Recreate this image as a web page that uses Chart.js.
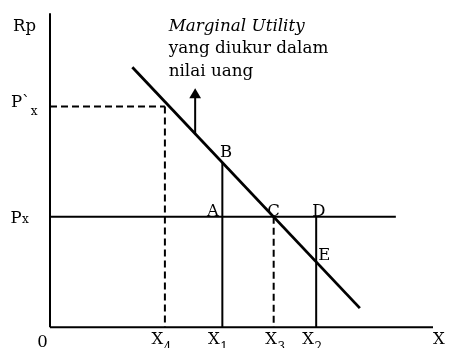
<!DOCTYPE html>
<html>
<head>
<meta charset="utf-8">
<script src="https://cdn.jsdelivr.net/npm/chart.js@4.4.1/dist/chart.umd.min.js"></script>
<style>
  html, body { margin: 0; padding: 0; background: #ffffff; }
  #c { display: block; }
</style>
</head>
<body>
<canvas id="c" width="450" height="348"></canvas>
<script>
// ---- data (abstract diagram units) ----
const axisMaxX = 10;
const axisMaxY = 10;
const quantityNames = ['4', '1', '3', '2'];          // subscripts of X
const quantities    = [3.0, 4.5, 5.84, 6.95];         // X4, X1, X3, X2
const priceNames    = ['P`', 'P'];                    // P`x, Px
const prices        = [7.03, 3.52];                   // P`x, Px
const priceLineEnd  = 9.03;
const muLineX       = [2.15, 8.09];                   // Marginal Utility line
const muLineY       = [8.28, 0.61];
const pointNames    = ['A', 'B', 'C', 'D', 'E'];
const pointX        = [4.5, 4.5, 5.84, 6.95, 6.95];
const pointY        = [3.52, 5.25, 3.52, 3.52, 2.09];
const arrowX        = 3.79;
const arrowY        = [6.17, 7.40];
const noteLines     = ['Marginal Utility', 'yang diukur dalam', 'nilai uang'];

const black = '#000000';
function seg(data, opts) {
  return Object.assign({
    data: data, showLine: true, borderColor: black, borderWidth: 2,
    pointRadius: 0, pointHoverRadius: 0, fill: false, clip: false,
    tension: 0
  }, opts || {});
}

const datasets = [
  // axes
  seg([{x: 0, y: 0}, {x: 0, y: axisMaxY}]),
  seg([{x: 0, y: 0}, {x: axisMaxX, y: 0}]),
  // price lines
  seg([{x: 0, y: prices[0]}, {x: quantities[0], y: prices[0]}], {borderDash: [7, 4]}),
  seg([{x: 0, y: prices[1]}, {x: priceLineEnd, y: prices[1]}]),
  // verticals
  seg([{x: quantities[0], y: prices[0]}, {x: quantities[0], y: 0}], {borderDash: [7, 4]}),
  seg([{x: pointX[1], y: pointY[1]}, {x: quantities[1], y: 0}]),
  seg([{x: pointX[2], y: pointY[2]}, {x: quantities[2], y: 0}], {borderDash: [7, 4]}),
  seg([{x: pointX[3], y: pointY[3]}, {x: quantities[3], y: 0}]),
  // marginal utility line
  seg([{x: muLineX[0], y: muLineY[0]}, {x: muLineX[1], y: muLineY[1]}], {borderWidth: 2.8}),
  // arrow stem
  seg([{x: arrowX, y: arrowY[0]}, {x: arrowX, y: arrowY[1]}]),
  // arrow head
  {
    data: [{x: arrowX, y: arrowY[1]}], showLine: false, pointStyle: 'triangle',
    pointRadius: 6.8, pointHoverRadius: 6.8, backgroundColor: black,
    borderColor: black, borderWidth: 0, clip: false
  }
];

const labelPlugin = {
  id: 'labels',
  afterDatasetsDraw(chart) {
    const ctx = chart.ctx;
    const sx = chart.scales.x, sy = chart.scales.y;
    const px = v => sx.getPixelForValue(v);
    const py = v => sy.getPixelForValue(v);
    const main = '16.5px "DejaVu Serif"';
    const sub = '12px "DejaVu Serif"';
    ctx.save();
    ctx.fillStyle = black;
    ctx.textBaseline = 'alphabetic';
    ctx.textAlign = 'left';

    function withSub(text, subText, left, base, subDy) {
      ctx.font = main;
      ctx.fillText(text, left, base);
      const w = ctx.measureText(text).width;
      ctx.font = sub;
      ctx.fillText(subText, left + w + 0.5, base + subDy);
      ctx.font = main;
    }

    const x0 = px(0), y0 = py(0);
    // Rp
    ctx.font = main;
    ctx.fillText('Rp', x0 - 37, py(axisMaxY) + 18);
    // price labels
    withSub(priceNames[0], 'x', x0 - 39, py(prices[0]) + 0.5, 7.5);
    withSub(priceNames[1], 'x', x0 - 39.5, py(prices[1]) + 5.8, 0.6);
    // origin
    ctx.font = main;
    ctx.textAlign = 'center';
    ctx.fillText('0', x0 - 7.5, y0 + 20);
    ctx.textAlign = 'left';
    // quantity labels
    const qOff = [-13.5, -14.3, -8.5, -14];
    quantities.forEach((q, i) => {
      withSub('X', quantityNames[i], px(q) + qOff[i], y0 + 16.2, 7);
    });
    ctx.font = main;
    ctx.fillText('X', px(axisMaxX), y0 + 16.2);
    // point labels
    const pOff = [[-15.3, -1.2], [-2.3, -5], [-6.5, -1.2], [-4, -1.2], [2, -1.7]];
    pointNames.forEach((n, i) => {
      ctx.fillText(n, px(pointX[i]) + pOff[i][0], py(pointY[i]) + pOff[i][1]);
    });
    // note text
    const ax = px(arrowX), ay = py(arrowY[1]) - 6.8;
    ctx.font = 'italic 16.8px "DejaVu Serif"';
    ctx.fillText(noteLines[0], ax - 26.5, ay - 57.6);
    ctx.font = '16.8px "DejaVu Serif"';
    ctx.fillText(noteLines[1], ax - 26.5, ay - 35);
    ctx.fillText(noteLines[2], ax - 26.5, ay - 12.3);
    ctx.restore();
  }
};

new Chart(document.getElementById('c'), {
  type: 'scatter',
  data: { datasets: datasets },
  options: {
    responsive: false,
    devicePixelRatio: 1,
    animation: false,
    events: [],
    layout: { padding: { left: 50, right: 17, top: 13.3, bottom: 20.7 } },
    plugins: { legend: { display: false }, tooltip: { enabled: false } },
    scales: {
      x: { type: 'linear', min: 0, max: axisMaxX, display: false },
      y: { type: 'linear', min: 0, max: axisMaxY, display: false }
    }
  },
  plugins: [labelPlugin]
});
</script>
</body>
</html>
